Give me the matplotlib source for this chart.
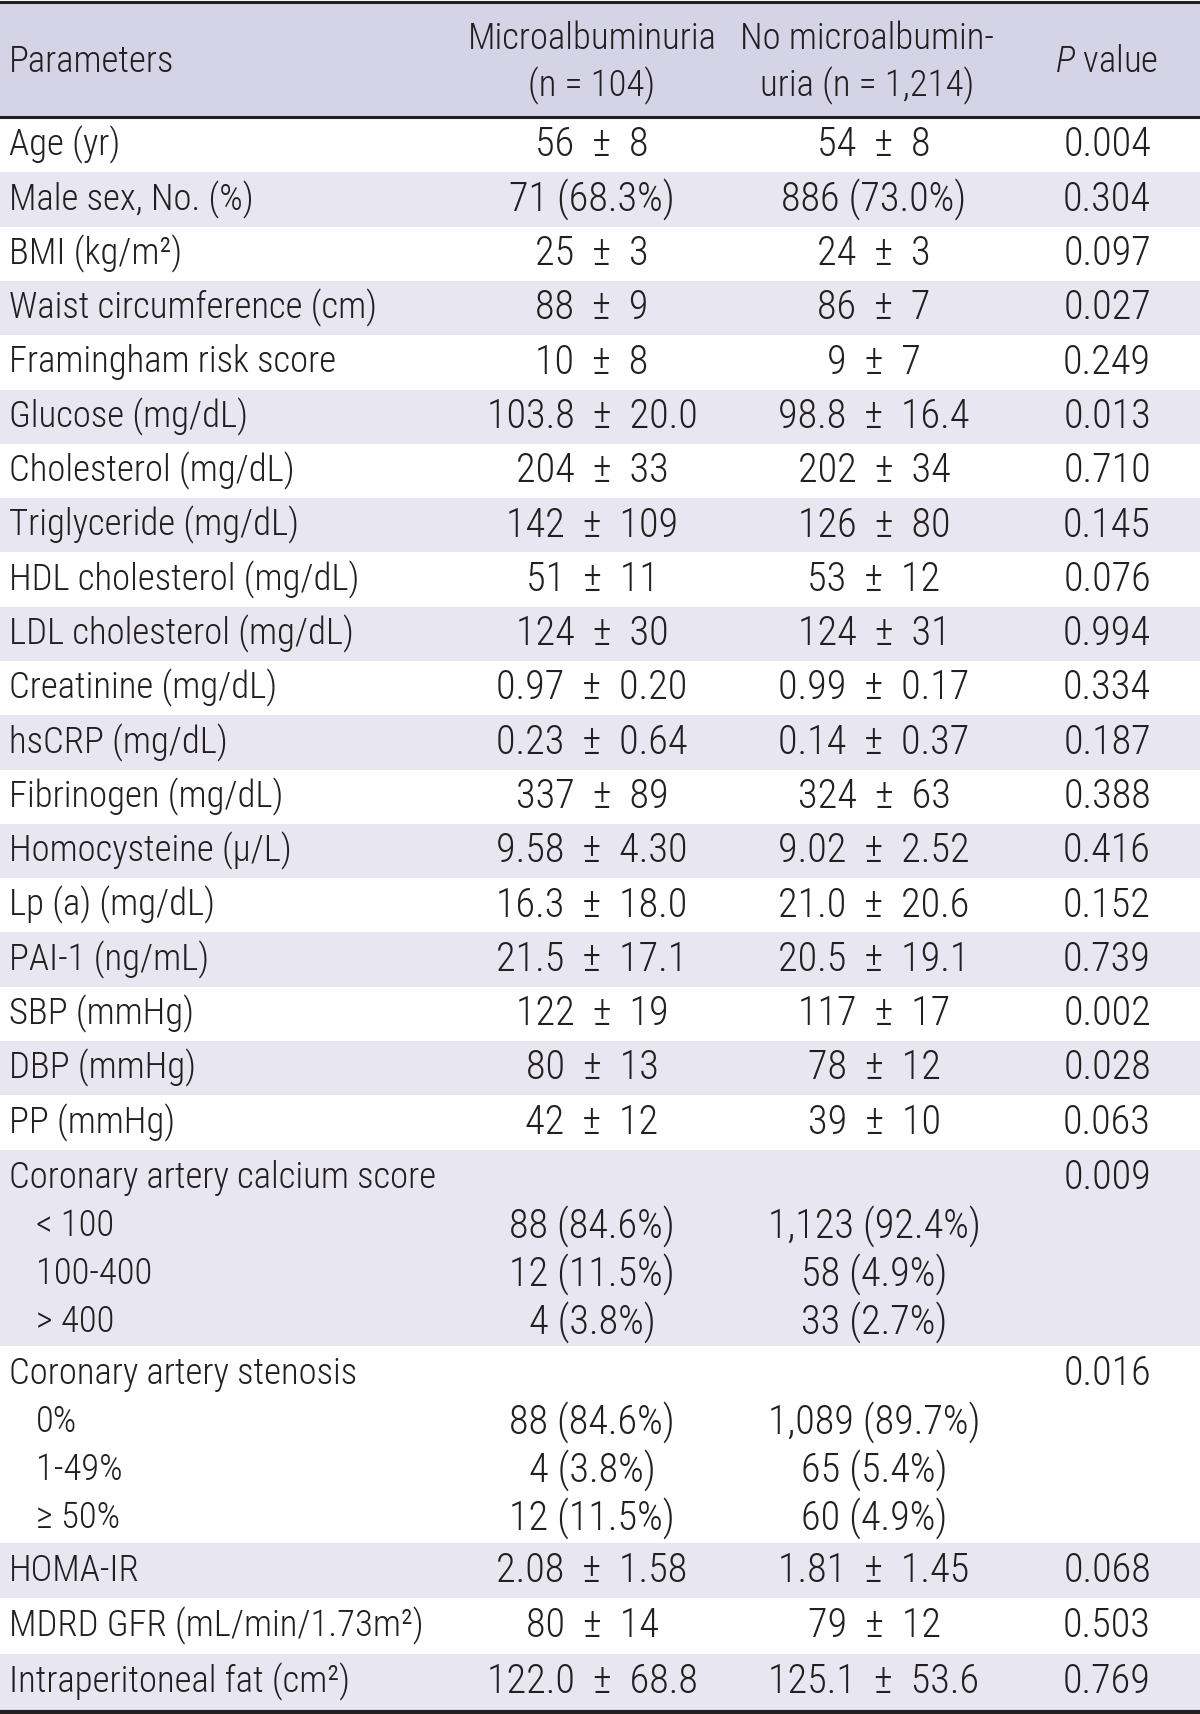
import matplotlib
matplotlib.use("Agg")
import matplotlib.pyplot as plt
from matplotlib import font_manager

# ---------------------------------------------------------------
header_cols = ["Parameters", "Microalbuminuria\n(n = 104)",
               "No microalbumin-\nuria (n = 1,214)", "$\\mathit{P}$ value"]

labels = ["Age (yr)", "Male sex, No. (%)", "BMI (kg/m\u00b2)", "Waist circumference (cm)",
          "Framingham risk score", "Glucose (mg/dL)", "Cholesterol (mg/dL)",
          "Triglyceride (mg/dL)", "HDL cholesterol (mg/dL)", "LDL cholesterol (mg/dL)",
          "Creatinine (mg/dL)", "hsCRP (mg/dL)", "Fibrinogen (mg/dL)",
          "Homocysteine (\u03bc/L)", "Lp (a) (mg/dL)", "PAI-1 (ng/mL)", "SBP (mmHg)",
          "DBP (mmHg)", "PP (mmHg)"]
micro = ["56 \u00b1 8", "71 (68.3%)", "25 \u00b1 3", "88 \u00b1 9", "10 \u00b1 8",
         "103.8 \u00b1 20.0", "204 \u00b1 33", "142 \u00b1 109", "51 \u00b1 11", "124 \u00b1 30",
         "0.97 \u00b1 0.20", "0.23 \u00b1 0.64", "337 \u00b1 89", "9.58 \u00b1 4.30",
         "16.3 \u00b1 18.0", "21.5 \u00b1 17.1", "122 \u00b1 19", "80 \u00b1 13", "42 \u00b1 12"]
nomicro = ["54 \u00b1 8", "886 (73.0%)", "24 \u00b1 3", "86 \u00b1 7", "9 \u00b1 7",
           "98.8 \u00b1 16.4", "202 \u00b1 34", "126 \u00b1 80", "53 \u00b1 12", "124 \u00b1 31",
           "0.99 \u00b1 0.17", "0.14 \u00b1 0.37", "324 \u00b1 63", "9.02 \u00b1 2.52",
           "21.0 \u00b1 20.6", "20.5 \u00b1 19.1", "117 \u00b1 17", "78 \u00b1 12", "39 \u00b1 10"]
pvals = ["0.004", "0.304", "0.097", "0.027", "0.249", "0.013", "0.710", "0.145", "0.076",
         "0.994", "0.334", "0.187", "0.388", "0.416", "0.152", "0.739", "0.002", "0.028", "0.063"]

cac_title = "Coronary artery calcium score"
cac_labels = ["< 100", "100-400", "> 400"]
cac_micro = ["88 (84.6%)", "12 (11.5%)", "4 (3.8%)"]
cac_nomicro = ["1,123 (92.4%)", "58 (4.9%)", "33 (2.7%)"]
cac_p = "0.009"

sten_title = "Coronary artery stenosis"
sten_labels = ["0%", "1-49%", "\u2265 50%"]
sten_micro = ["88 (84.6%)", "4 (3.8%)", "12 (11.5%)"]
sten_nomicro = ["1,089 (89.7%)", "65 (5.4%)", "60 (4.9%)"]
sten_p = "0.016"

tail_labels = ["HOMA-IR", "MDRD GFR (mL/min/1.73m\u00b2)", "Intraperitoneal fat (cm\u00b2)"]
tail_micro = ["2.08 \u00b1 1.58", "80 \u00b1 14", "122.0 \u00b1 68.8"]
tail_nomicro = ["1.81 \u00b1 1.45", "79 \u00b1 12", "125.1 \u00b1 53.6"]
tail_p = ["0.068", "0.503", "0.769"]
# ---------------------------------------------------------------

names = {f.name for f in font_manager.fontManager.ttflist}
fam = [n for n in ["Roboto Condensed", "Liberation Sans", "DejaVu Sans"] if n in names]
plt.rcParams["font.family"] = fam
plt.rcParams["font.weight"] = 300
plt.rcParams["mathtext.fontset"] = "custom"
plt.rcParams["mathtext.it"] = fam[0] + ":italic:light"
plt.rcParams["mathtext.rm"] = fam[0] + ":light"

TXT = "#231f20"
HEAD_BG = "#d5d4e7"
ROW_BG = "#e7e6f1"
FS_LAB = 26.5   # labels and header
FS_VAL = 29     # numbers

W, H = 1200, 1714
fig = plt.figure(figsize=(W / 100, H / 100), dpi=100)
ax = fig.add_axes([0, 0, 1, 1])
ax.set_xlim(0, W)
ax.set_ylim(H, 0)
ax.axis("off")

x_lab, x_sub, x_c2, x_c3, x_c4 = 9, 36, 592, 874, 1107

# header
ax.axhspan(3, 116, color=HEAD_BG, lw=0)
ax.text(x_lab, 62, header_cols[0], fontsize=FS_LAB, color=TXT, va="center", ha="left")
for x, t in zip([x_c2, 867], header_cols[1:3]):
    ax.text(x, 63, t, fontsize=FS_LAB, color=TXT, va="center", ha="center", linespacing=1.3)
ax.text(x_c4, 62, header_cols[3], fontsize=FS_LAB, color=TXT, va="center", ha="center")

def fmt(s):
    return s.replace(" \u00b1 ", "  \u00b1  ")

def cell(y, lab, a, b, p, indent=False):
    ax.text(x_sub if indent else x_lab, y, lab, fontsize=FS_LAB, color=TXT, va="center", ha="left")
    ax.text(x_c2, y, fmt(a), fontsize=FS_VAL, color=TXT, va="center", ha="center")
    ax.text(x_c3, y, fmt(b), fontsize=FS_VAL, color=TXT, va="center", ha="center")
    ax.text(x_c4, y, p, fontsize=FS_VAL, color=TXT, va="center", ha="center")

y = 118.0
rh = 54.3
shade = False
for i in range(len(labels)):
    if shade:
        ax.axhspan(y, y + rh, color=ROW_BG, lw=0)
    cell(y + rh / 2, labels[i], micro[i], nomicro[i], pvals[i])
    y += rh
    shade = not shade

bh = 196.5
for title, subl, a, b, p in [(cac_title, cac_labels, cac_micro, cac_nomicro, cac_p),
                             (sten_title, sten_labels, sten_micro, sten_nomicro, sten_p)]:
    if shade:
        ax.axhspan(y, y + bh, color=ROW_BG, lw=0)
    cell(y + 28, title, "", "", p)
    for k in range(len(subl)):
        cell(y + 28 + 48 * (k + 1), subl[k], a[k], b[k], "", indent=True)
    y += bh
    shade = not shade

rh2 = 55.7
for i in range(len(tail_labels)):
    if shade:
        ax.axhspan(y, y + rh2, color=ROW_BG, lw=0)
    cell(y + rh2 / 2, tail_labels[i], tail_micro[i], tail_nomicro[i], tail_p[i])
    y += rh2
    shade = not shade

ax.axhline(1.5, color=TXT, lw=2.2)
ax.axhline(116.5, color=TXT, lw=2.2)
ax.axhline(1712, color=TXT, lw=3.0)

fig.savefig("out.png", dpi=100)
